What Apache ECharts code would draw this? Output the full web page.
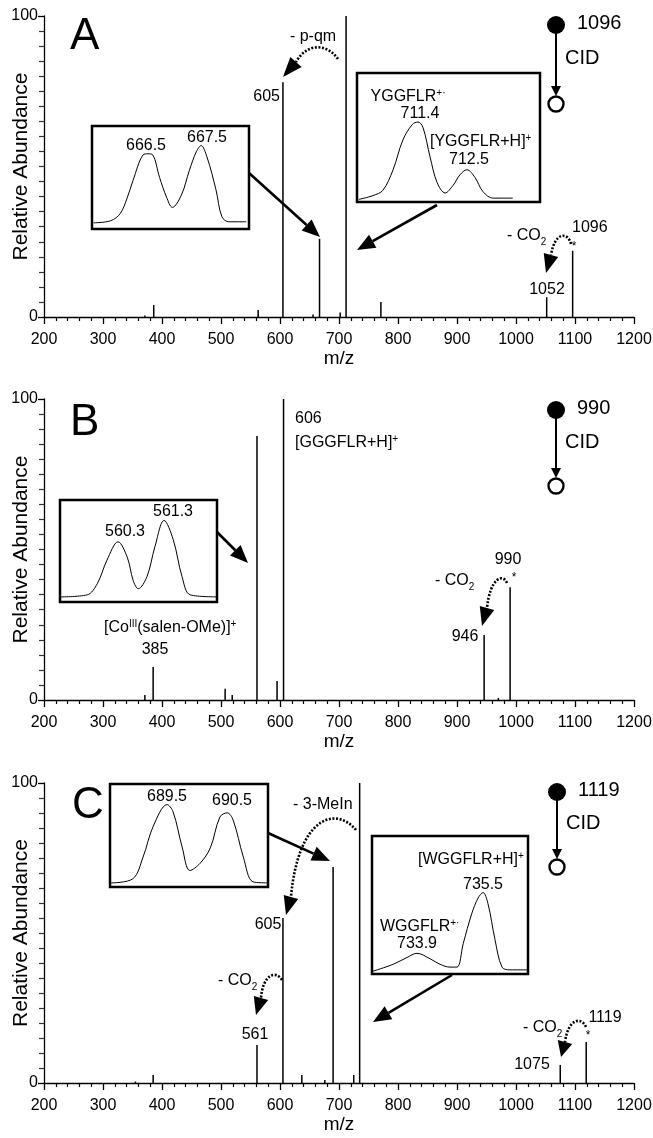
<!DOCTYPE html>
<html>
<head>
<meta charset="utf-8">
<script src="https://cdn.jsdelivr.net/npm/echarts@6/dist/echarts.min.js"></script>
<style>
  html, body { margin: 0; padding: 0; background: #fff; }
  #chart { width: 653px; height: 1138px; }
</style>
</head>
<body>
<div id="chart"></div>
<script>
// stick spectra (m/z, relative abundance)
var peaksA_mz  = [371, 386, 563, 605, 656, 667, 702, 712, 771, 1052, 1096];
var peaksA_int = [0.5, 4, 2.3, 78, 0.8, 26, 1.5, 100, 5, 6.6, 22];
var peaksB_mz  = [371, 385, 507, 519, 561, 595, 606, 946, 970, 990];
var peaksB_int = [1.7, 11, 3.7, 1.7, 87.7, 6.3, 100, 21.6, 0.7, 37.5];
var peaksC_mz  = [355, 385, 561, 605, 637, 676, 690, 725, 735, 1075, 1119];
var peaksC_int = [0.5, 2.7, 12.7, 55, 2.7, 1, 72, 2.7, 100, 6, 13.7];

// inset profiles (m/z, scaled intensity)
var insetA1_mz  = [665.48, 665.8, 665.98, 666.11, 666.22, 666.41, 666.5, 666.59, 666.72, 666.85, 666.96, 667.13, 667.28, 667.41, 667.5, 667.61, 667.78, 667.89, 668.02, 668.35];
var insetA1_int = [0.06, 0.08, 0.15, 0.3, 0.47, 0.72, 0.73, 0.72, 0.5, 0.31, 0.21, 0.33, 0.57, 0.75, 0.81, 0.7, 0.38, 0.12, 0.07, 0.07];
var insetA2_mz  = [710.07, 710.39, 710.61, 710.84, 711.06, 711.27, 711.4, 711.51, 711.67, 711.83, 712.01, 712.19, 712.34, 712.5, 712.68, 712.86, 713.09, 713.53];
var insetA2_int = [0.02, 0.05, 0.09, 0.25, 0.48, 0.6, 0.62, 0.58, 0.35, 0.15, 0.07, 0.13, 0.21, 0.25, 0.19, 0.08, 0.03, 0.03];
var insetB_mz   = [559.04, 559.63, 559.85, 560.06, 560.3, 560.5, 560.63, 560.74, 560.93, 561.1, 561.3, 561.5, 561.69, 561.87, 562.45];
var insetB_int  = [0.05, 0.07, 0.18, 0.41, 0.59, 0.44, 0.21, 0.13, 0.25, 0.54, 0.8, 0.61, 0.25, 0.07, 0.05];
var insetC1_mz  = [688.57, 688.93, 689.1, 689.27, 689.5, 689.6, 689.75, 689.88, 690.05, 690.22, 690.38, 690.5, 690.6, 690.77, 690.93, 691.17];
var insetC1_int = [0.04, 0.08, 0.29, 0.59, 0.8, 0.73, 0.39, 0.16, 0.23, 0.38, 0.68, 0.72, 0.65, 0.29, 0.05, 0.04];
var insetC2_mz  = [732.83, 733.32, 733.66, 733.9, 734.22, 734.46, 734.7, 734.87, 735.02, 735.23, 735.38, 735.5, 735.62, 735.79, 735.96, 736.15, 736.57];
var insetC2_int = [0.02, 0.07, 0.12, 0.15, 0.11, 0.07, 0.05, 0.05, 0.22, 0.44, 0.55, 0.59, 0.51, 0.25, 0.05, 0.03, 0.03];

var xTicks = [200, 1200, 100];   // min, max, step
var yTicks = [0, 100];

var FONT = 'Liberation Sans, Arial, Helvetica, sans-serif';

function zip(a, b) { return a.map(function (v, i) { return [v, b[i]]; }); }

var chart = echarts.init(document.getElementById('chart'));

// main panels + insets
var grids = [
  { left: 44, top: 16, width: 590, height: 301, outerBoundsMode: 'none' },
  { left: 44, top: 399, width: 590, height: 301, outerBoundsMode: 'none' },
  { left: 44, top: 783, width: 590, height: 300, outerBoundsMode: 'none' }
];
var insets = [
  { box: [92, 126, 157, 103], x: [665.45, 668.4], mz: insetA1_mz, v: insetA1_int },
  { box: [357, 73, 183, 129], x: [710.03, 714.14], mz: insetA2_mz, v: insetA2_int },
  { box: [60, 500, 157, 102], x: [559.04, 562.45], mz: insetB_mz, v: insetB_int },
  { box: [110, 784, 158, 103], x: [688.55, 691.18], mz: insetC1_mz, v: insetC1_int },
  { box: [372, 836, 156, 138], x: [732.81, 736.59], mz: insetC2_mz, v: insetC2_int }
];

var xAxes = [], yAxes = [], series = [];
var mains = [zip(peaksA_mz, peaksA_int), zip(peaksB_mz, peaksB_int), zip(peaksC_mz, peaksC_int)];

mains.forEach(function (d, i) {
  xAxes.push({
    type: 'value', gridIndex: i, min: xTicks[0], max: xTicks[1], interval: xTicks[2],
    name: 'm/z', nameLocation: 'middle', nameGap: 31,
    nameTextStyle: { fontFamily: FONT, fontSize: 19, color: '#000' },
    axisLine: { onZero: false, lineStyle: { color: '#000', width: 1.3 } },
    axisTick: { show: true, inside: false, length: 7, lineStyle: { color: '#000', width: 1.3 } },
    minorTick: { show: true, splitNumber: 5, length: 4, lineStyle: { color: '#000', width: 1.2 } },
    axisLabel: { fontFamily: FONT, fontSize: 16, color: '#000', margin: 15,
                 formatter: function (v) { return String(v); } },
    splitLine: { show: false }
  });
  yAxes.push({
    type: 'value', gridIndex: i, min: yTicks[0], max: yTicks[1], interval: 100,
    name: 'Relative Abundance', nameLocation: 'middle', nameGap: 12, nameMoveOverlap: false,
    nameTextStyle: { fontFamily: FONT, fontSize: 21, color: '#000' },
    axisLine: { show: true, onZero: false, lineStyle: { color: '#000', width: 1.3 } },
    axisTick: { show: true, inside: false, length: 6, lineStyle: { color: '#000', width: 1.3 } },
    minorTick: { show: true, splitNumber: 20, length: 5, lineStyle: { color: '#333', width: 1.2 } },
    axisLabel: { fontFamily: FONT, fontSize: 16, color: '#000', margin: 6 },
    splitLine: { show: false }
  });
  series.push({
    type: 'custom', xAxisIndex: i, yAxisIndex: i, data: d,
    encode: { x: 0, y: 1 },
    renderItem: function (params, api) {
      var p0 = api.coord([api.value(0), 0]);
      var p1 = api.coord([api.value(0), api.value(1)]);
      return { type: 'line', shape: { x1: p0[0], y1: p0[1], x2: p1[0], y2: p1[1] },
               style: { stroke: '#000', lineWidth: 1.5 } };
    }
  });
});

insets.forEach(function (s, k) {
  var gi = 3 + k;
  grids.push({ show: true, left: s.box[0], top: s.box[1], width: s.box[2], height: s.box[3],
               outerBoundsMode: 'none',
               borderColor: '#000', borderWidth: 2.5, backgroundColor: '#fff' });
  xAxes.push({ type: 'value', gridIndex: gi, min: s.x[0], max: s.x[1], show: false });
  yAxes.push({ type: 'value', gridIndex: gi, min: 0, max: 1, show: false });
  series.push({ type: 'line', xAxisIndex: gi, yAxisIndex: gi, data: zip(s.mz, s.v),
                showSymbol: false, smooth: 0.35, lineStyle: { color: '#000', width: 1 } });
});

// annotation helpers
var G = [];
var rich = {
  sup: { fontFamily: FONT, fontSize: 10, verticalAlign: 'top', lineHeight: 18 },
  sub: { fontFamily: FONT, fontSize: 10, verticalAlign: 'bottom', lineHeight: 22 }
};
function txt(x, y, s, size, align) {
  G.push({ type: 'text', x: x, y: y, z: 100,
    style: { text: s, fontFamily: FONT, fontSize: size || 16, fill: '#000',
             align: align || 'center', verticalAlign: 'middle', rich: rich } });
}
function head(tx, ty, bx, by, w) {
  var dx = tx - bx, dy = ty - by, l = Math.sqrt(dx * dx + dy * dy);
  var px = -dy / l * w, py = dx / l * w;
  G.push({ type: 'polygon', z: 100, shape: { points: [[tx, ty], [bx + px, by + py], [bx - px, by - py]] },
           style: { fill: '#000' } });
}
function arrow(x1, y1, x2, y2) {
  var dx = x2 - x1, dy = y2 - y1, l = Math.sqrt(dx * dx + dy * dy), L = 18;
  var bx = x2 - dx / l * L, by = y2 - dy / l * L;
  G.push({ type: 'line', z: 100, shape: { x1: x1, y1: y1, x2: bx, y2: by },
           style: { stroke: '#000', lineWidth: 2.6 } });
  head(x2, y2, bx, by, 7.5);
}
function curved(s, c1, c2, e, tip) {
  G.push({ type: 'bezierCurve', z: 100,
    shape: { x1: s[0], y1: s[1], cpx1: c1[0], cpy1: c1[1], cpx2: c2[0], cpy2: c2[1], x2: e[0], y2: e[1] },
    style: { stroke: '#000', lineWidth: 2.6, lineDash: [2, 1.6], fill: null } });
  head(tip[0], tip[1], e[0], e[1], 7.5);
}
function cid(x, y0, y1, label) {
  G.push({ type: 'circle', z: 100, shape: { cx: x, cy: y0, r: 9 }, style: { fill: '#000' } });
  G.push({ type: 'line', z: 100, shape: { x1: x, y1: y0, x2: x, y2: y1 - 17 }, style: { stroke: '#000', lineWidth: 2 } });
  head(x, y1 - 8, x, y1 - 18, 5);
  G.push({ type: 'circle', z: 100, shape: { cx: x, cy: y1, r: 7.5 }, style: { fill: '#fff', stroke: '#000', lineWidth: 2.4 } });
  txt(x + 21, y0 - 2, label, 20, 'left');
  txt(x + 9, (y0 + y1) / 2 - 6, 'CID', 20, 'left');
}

// panel A
txt(70, 37, 'A', 44, 'left');
txt(280, 97, '605', 16, 'right');
txt(313, 37, '- p-qm', 16);
curved([338, 59], [326, 42], [306, 44], [296, 62], [283, 77]);
txt(146, 146, '666.5', 16);
txt(207, 138, '667.5', 16);
arrow(249, 173, 320, 237);
txt(408, 97, 'YGGFLR{sup|+·}', 16);
txt(420, 114, '711.4', 16);
txt(430, 142, '[YGGFLR+H]{sup|+}', 16, 'left');
txt(469, 160, '712.5', 16);
arrow(437, 205, 357, 250);
cid(556, 25, 104, '1096');
txt(572, 228, '1096', 16, 'left');
txt(574, 247, '*', 12);
txt(507, 236, '- CO{sub|2}', 16, 'left');
curved([571, 244], [568, 232], [555, 231], [551, 255], [546, 273]);
txt(547, 290, '1052', 16);

// panel B
txt(70, 423, 'B', 44, 'left');
txt(295, 419, '606', 16, 'left');
txt(295, 443, '[GGGFLR+H]{sup|+}', 16, 'left');
txt(125, 532, '560.3', 16);
txt(173, 512, '561.3', 16);
arrow(217, 532, 248, 563);
txt(104, 628, '[Co{sup|III}(salen-OMe)]{sup|+}', 16, 'left');
txt(155, 650, '385', 16);
cid(556, 410, 486, '990');
txt(508, 560, '990', 16);
txt(514, 578, '*', 12);
txt(435, 581, '- CO{sub|2}', 16, 'left');
curved([507, 583], [503, 573], [490, 578], [487, 608], [482, 626]);
txt(465, 637, '946', 16);

// panel C
txt(72, 806, 'C', 44, 'left');
txt(167, 797, '689.5', 16);
txt(232, 801, '690.5', 16);
arrow(268, 833, 330, 861);
txt(293, 805, '- 3-MeIn', 16, 'left');
curved([356, 830], [335, 805], [298, 818], [291, 897], [286, 915]);
txt(268, 925, '605', 16);
txt(218, 981, '- CO{sub|2}', 16, 'left');
curved([282, 980], [276, 970], [263, 974], [261, 998], [256, 1015]);
txt(255, 1035, '561', 16);
txt(418, 860, '[WGGFLR+H]{sup|+}', 16, 'left');
txt(483, 885, '735.5', 16);
txt(380, 927, 'WGGFLR{sup|+·}', 16, 'left');
txt(417, 944, '733.9', 16);
arrow(452, 975, 373, 1022);
cid(557, 792, 867, '1119');
txt(605, 1018, '1119', 16);
txt(588, 1036, '*', 12);
txt(523, 1028, '- CO{sub|2}', 16, 'left');
curved([586, 1027], [581, 1016], [568, 1019], [565, 1042], [561, 1057]);
txt(532, 1065, '1075', 16);

chart.setOption({
  animation: false,
  backgroundColor: '#fff',
  grid: grids,
  xAxis: xAxes,
  yAxis: yAxes,
  series: series,
  graphic: G
});
</script>
</body>
</html>
